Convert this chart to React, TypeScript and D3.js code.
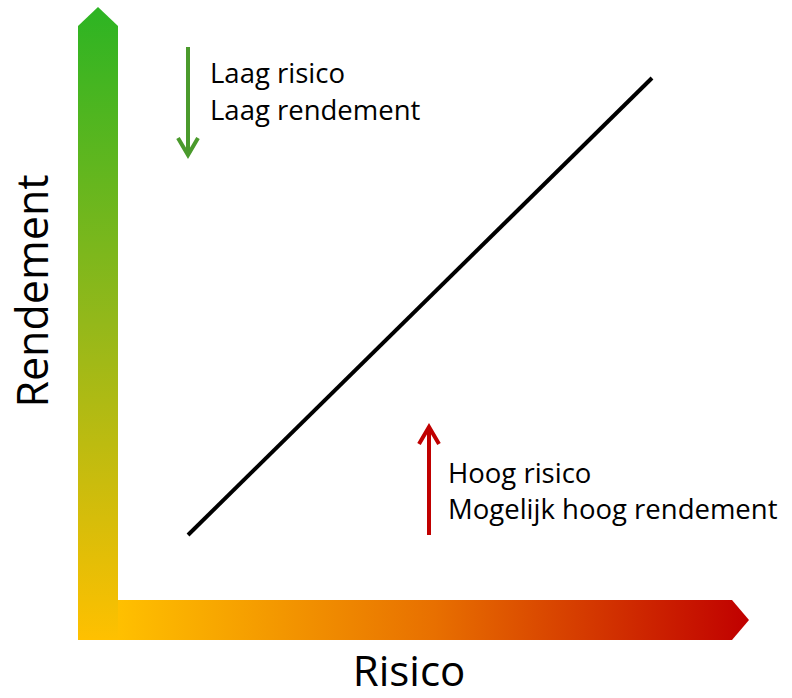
import * as d3 from "d3";
import {useEffect, useRef} from "react";

// risk/return trade-off line (relative units)
const lineRisk = [0, 1];
const lineReturn = [0, 1];

const labelsLow = ["Laag risico", "Laag rendement"];
const labelsHigh = ["Hoog risico", "Mogelijk hoog rendement"];
const axisX = "Risico";
const axisY = "Rendement";

const W = 792;
const H = 698;

const App = () => {
    const ref = useRef<SVGSVGElement>(null);

    useEffect(() => {
        const svg = d3.select(ref.current);
        svg.selectAll("*").remove();

        const font = "'Open Sans', sans-serif";

        const defs = svg.append("defs");
        const gv = defs.append("linearGradient").attr("id", "gv")
            .attr("x1", 0).attr("y1", 0).attr("x2", 0).attr("y2", 1);
        gv.append("stop").attr("offset", "0%").attr("stop-color", "#2cb423");
        gv.append("stop").attr("offset", "50%").attr("stop-color", "#94b81a");
        gv.append("stop").attr("offset", "100%").attr("stop-color", "#ffc000");

        const gh = defs.append("linearGradient").attr("id", "gh")
            .attr("x1", 0).attr("y1", 0).attr("x2", 1).attr("y2", 0);
        gh.append("stop").attr("offset", "0%").attr("stop-color", "#ffc000");
        gh.append("stop").attr("offset", "50%").attr("stop-color", "#e87000");
        gh.append("stop").attr("offset", "100%").attr("stop-color", "#c00000");

        // vertical axis arrow
        svg.append("path")
            .attr("d", "M78,640 L78,26 L98,7 L118,26 L118,640 Z")
            .attr("fill", "url(#gv)");

        // horizontal axis arrow
        svg.append("path")
            .attr("d", "M118,600 L732,600 L749,620 L732,640 L118,640 Z")
            .attr("fill", "url(#gh)");

        const x = d3.scaleLinear().domain([0, 1]).range([188, 652]);
        const y = d3.scaleLinear().domain([0, 1]).range([535, 78]);

        const line = d3.line<number>()
            .x((d, i) => x(lineRisk[i]))
            .y(d => y(d));

        svg.append("path")
            .datum(lineReturn)
            .attr("d", line)
            .attr("stroke", "#000")
            .attr("stroke-width", 4)
            .attr("fill", "none");

        // green arrow down
        svg.append("line")
            .attr("x1", 188).attr("y1", 47).attr("x2", 188).attr("y2", 154)
            .attr("stroke", "#4a9a2c").attr("stroke-width", 4);
        svg.append("path")
            .attr("d", "M178,138 L188,155 L198,138")
            .attr("stroke", "#4a9a2c").attr("stroke-width", 4).attr("fill", "none");

        // red arrow up
        svg.append("line")
            .attr("x1", 429).attr("y1", 428).attr("x2", 429).attr("y2", 535)
            .attr("stroke", "#c00000").attr("stroke-width", 4);
        svg.append("path")
            .attr("d", "M419,444 L429,427 L439,444")
            .attr("stroke", "#c00000").attr("stroke-width", 4).attr("fill", "none");

        svg.selectAll(".low")
            .data(labelsLow)
            .enter()
            .append("text")
            .attr("x", 210)
            .attr("y", (d, i) => 83 + i * 37)
            .attr("font-family", font)
            .attr("font-size", 27.5)
            .attr("fill", "#000")
            .text(d => d);

        svg.selectAll(".high")
            .data(labelsHigh)
            .enter()
            .append("text")
            .attr("x", 448)
            .attr("y", (d, i) => 483 + i * 36)
            .attr("font-family", font)
            .attr("font-size", 27.5)
            .attr("fill", "#000")
            .text(d => d);

        svg.append("text")
            .attr("x", 409)
            .attr("y", 686)
            .attr("text-anchor", "middle")
            .attr("font-family", font)
            .attr("font-size", 42)
            .text(axisX);

        svg.append("text")
            .attr("transform", "translate(48,291) rotate(-90)")
            .attr("text-anchor", "middle")
            .attr("font-family", font)
            .attr("font-size", 43)
            .text(axisY);
    }, []);

    return (
        <svg ref={ref} width={W} height={H}
             style={{position: "absolute", left: 0, top: 0, background: "#fff"}}></svg>
    );
};

export default App;
